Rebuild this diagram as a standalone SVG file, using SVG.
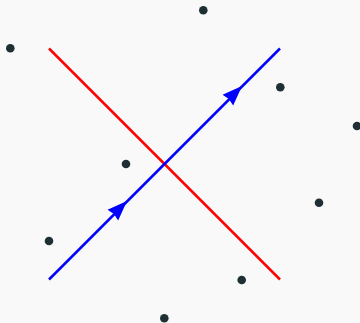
<svg xmlns="http://www.w3.org/2000/svg" width="360" height="323" viewBox="0 0 360 323">
  <style>
    .dot { fill: #1f3035; }
    .red { stroke: #ff0000; stroke-width: 2.5; fill: none; }
    .blue { stroke: #0000ff; stroke-width: 2.5; fill: none; }
    .head { fill: #0000ff; }
  </style>
  <defs>
    <path id="arrow" d="M0,0 L-20,-7.5 L-18.5,0 L-20,7.5 Z"/>
  </defs>
  <rect width="360" height="323" fill="#f9f9f9"/>
  <g id="connectors">
    <line class="red" x1="49" y1="48.5" x2="280" y2="279.5"/>
    <line class="blue" x1="49" y1="279.5" x2="280" y2="48.5"/>
    <use href="#arrow" class="head" transform="translate(127,201) rotate(-45)"/>
    <use href="#arrow" class="head" transform="translate(242,86) rotate(-45)"/>
  </g>
  <g id="n1"><circle class="dot" cx="10.3" cy="48.3" r="4.3"/></g>
  <g id="n2"><circle class="dot" cx="203.3" cy="10.3" r="4.3"/></g>
  <g id="n3"><circle class="dot" cx="280.3" cy="87.3" r="4.3"/></g>
  <g id="n4"><circle class="dot" cx="357" cy="126" r="4.3"/></g>
  <g id="n5"><circle class="dot" cx="126" cy="164" r="4.3"/></g>
  <g id="n6"><circle class="dot" cx="49" cy="241" r="4.3"/></g>
  <g id="n7"><circle class="dot" cx="319" cy="202.7" r="4.3"/></g>
  <g id="n8"><circle class="dot" cx="241.7" cy="280" r="4.3"/></g>
  <g id="n9"><circle class="dot" cx="164.3" cy="318.3" r="4.3"/></g>
</svg>
